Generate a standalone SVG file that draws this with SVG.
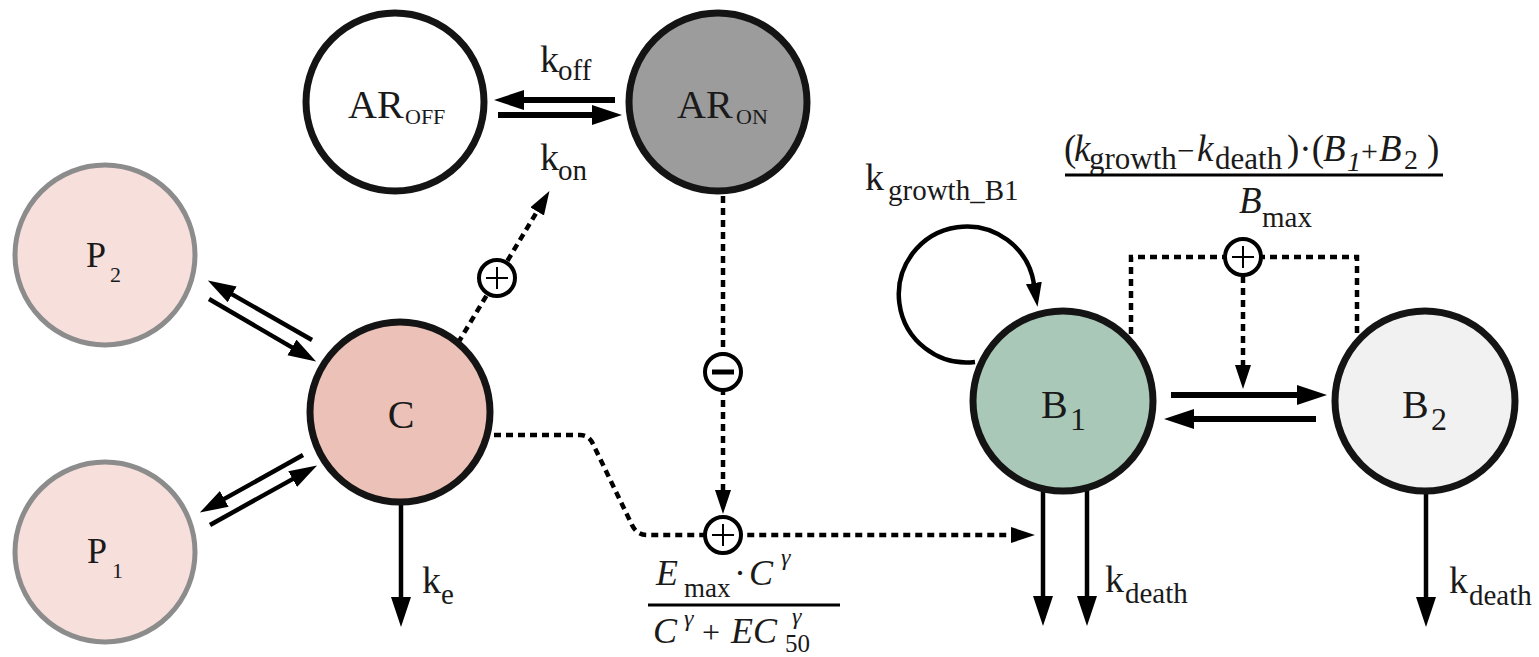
<svg xmlns="http://www.w3.org/2000/svg" width="1539" height="657" viewBox="0 0 1539 657" font-family="Liberation Serif, DejaVu Serif, serif">
  <defs>
    <style>
      text { fill: #1a1a1a; }
      .lbl { font-size: 40px; }
      .k { font-size: 38px; }
      .sub { font-size: 29px; }
      .it { font-style: italic; }
      .node { stroke: #141414; stroke-width: 7; }
      .pnode { stroke: #8c8c8c; stroke-width: 5; fill: #f7dfdb; }
      .flow { fill: none; stroke: #000; stroke-width: 4.5; }
      .thick { fill: none; stroke: #000; stroke-width: 6; }
      .dot { fill: none; stroke: #000; stroke-width: 4.5; stroke-dasharray: 7 5; }
      .sign { fill: #fff; stroke: #000; stroke-width: 4; }
      .bar { stroke: #000; stroke-width: 2; }
    </style>
    <marker id="ah" markerUnits="userSpaceOnUse" markerWidth="30" markerHeight="20" refX="1" refY="9" orient="auto">
      <path d="M0,0 L28,9 L0,18 Z" fill="#000"/>
    </marker>
    <marker id="ahL" markerUnits="userSpaceOnUse" markerWidth="32" markerHeight="22" refX="1" refY="10" orient="auto">
      <path d="M0,0 L30,10 L0,20 Z" fill="#000"/>
    </marker>
    <marker id="ahD" markerUnits="userSpaceOnUse" markerWidth="26" markerHeight="18" refX="1" refY="8" orient="auto">
      <path d="M0,0 L24,8 L0,16 Z" fill="#000"/>
    </marker>
  </defs>

  <!-- connectors -->
  <g id="connectors">
    <!-- receptor switching -->
    <line class="thick" x1="615" y1="100" x2="523" y2="100" marker-end="url(#ahL)"/>
    <line class="thick" x1="498" y1="115" x2="593" y2="115" marker-end="url(#ahL)"/>
    <!-- peripheral exchange -->
    <line class="flow" x1="312" y1="340" x2="231.3" y2="293.9" marker-end="url(#ah)"/>
    <line class="flow" x1="209" y1="299" x2="292.8" y2="347.9" marker-end="url(#ah)"/>
    <line class="flow" x1="303" y1="455" x2="223.4" y2="499.4" marker-end="url(#ah)"/>
    <line class="flow" x1="210" y1="525" x2="293.5" y2="478.6" marker-end="url(#ah)"/>
    <!-- elimination -->
    <line class="flow" x1="401" y1="503" x2="401" y2="598" marker-end="url(#ahL)"/>
    <!-- B1 / B2 transition -->
    <line class="thick" x1="1171" y1="395" x2="1298" y2="395" marker-end="url(#ahL)"/>
    <line class="thick" x1="1316" y1="419" x2="1193" y2="419" marker-end="url(#ahL)"/>
    <!-- death outflows -->
    <line class="flow" x1="1043" y1="490" x2="1043" y2="597" marker-end="url(#ahL)"/>
    <line class="flow" x1="1087" y1="490" x2="1087" y2="597" marker-end="url(#ahL)"/>
    <line class="flow" x1="1426" y1="494" x2="1426" y2="598" marker-end="url(#ahL)"/>
    <!-- B1 self growth -->
    <path class="flow" d="M975,362 A68,68 0 1 1 1034,284" marker-end="url(#ahD)"/>
    <!-- regulatory links -->
    <line class="dot" x1="458" y1="343" x2="537.6" y2="210.6" marker-end="url(#ahD)"/>
    <line class="dot" x1="723" y1="196" x2="723" y2="491" marker-end="url(#ahD)"/>
    <path class="dot" d="M494,435 L580,435 Q589,435 593,444 L632,525 Q637,535 647,535 L1012,535" marker-end="url(#ahD)"/>
    <path class="dot" d="M1131,334 V257 H1357 V334"/>
    <line class="dot" x1="1243" y1="276" x2="1243" y2="366" marker-end="url(#ahD)"/>
  </g>

  <!-- regulation signs -->
  <g id="sign-plus-c">
    <circle class="sign" cx="497" cy="278" r="18"/>
    <line class="bar" x1="486" y1="278" x2="508" y2="278"/>
    <line class="bar" x1="497" y1="267" x2="497" y2="289"/>
  </g>
  <g id="sign-minus">
    <circle class="sign" cx="723" cy="372" r="18"/>
    <line x1="712" y1="372" x2="734" y2="372" stroke="#000" stroke-width="5"/>
  </g>
  <g id="sign-plus-effect">
    <circle class="sign" cx="723" cy="535" r="18"/>
    <line class="bar" x1="712" y1="535" x2="734" y2="535"/>
    <line class="bar" x1="723" y1="524" x2="723" y2="546"/>
  </g>
  <g id="sign-plus-b">
    <circle class="sign" cx="1243" cy="257" r="18"/>
    <line class="bar" x1="1232" y1="257" x2="1254" y2="257"/>
    <line class="bar" x1="1243" y1="246" x2="1243" y2="268"/>
  </g>

  <!-- nodes -->
  <g id="node-ar-off">
    <circle class="node" cx="395" cy="102" r="89" fill="#ffffff"/>
    <text class="lbl" x="348" y="118">AR<tspan x="405" y="124" font-size="22">OFF</tspan></text>
  </g>
  <g id="node-ar-on">
    <circle class="node" cx="718" cy="102" r="89" fill="#9c9c9c"/>
    <text class="lbl" x="677" y="118">AR<tspan x="736" y="124" font-size="22">ON</tspan></text>
  </g>
  <g id="node-p2">
    <circle class="pnode" cx="105" cy="255" r="90"/>
    <text x="86" y="267" font-size="36">P<tspan x="110" y="282" font-size="22">2</tspan></text>
  </g>
  <g id="node-p1">
    <circle class="pnode" cx="105" cy="552" r="90"/>
    <text x="87" y="563" font-size="36">P<tspan x="112" y="578" font-size="22">1</tspan></text>
  </g>
  <g id="node-c">
    <circle class="node" cx="400" cy="412" r="90" fill="#ecc1b8"/>
    <text class="lbl" x="401" y="428" text-anchor="middle">C</text>
  </g>
  <g id="node-b1">
    <circle class="node" cx="1063" cy="401" r="90" fill="#aac8b7"/>
    <text class="lbl" x="1041" y="418">B<tspan x="1070" y="430" font-size="32">1</tspan></text>
  </g>
  <g id="node-b2">
    <circle class="node" cx="1425" cy="401" r="90" fill="#f1f1f1"/>
    <text class="lbl" x="1402" y="418">B<tspan x="1431" y="430" font-size="32">2</tspan></text>
  </g>

  <!-- rate labels -->
  <g id="labels">
    <text class="k" x="540" y="72">k<tspan class="sub" x="558" y="80">off</tspan></text>
    <text class="k" x="540" y="170">k<tspan class="sub" x="558" y="180">on</tspan></text>
    <text class="k" x="422" y="593">k<tspan class="sub" x="441" y="604">e</tspan></text>
    <text class="k" x="865" y="190">k<tspan class="sub" x="888" y="200">growth_B1</tspan></text>
    <text class="k" x="1105" y="592">k<tspan class="sub" x="1125" y="603">death</tspan></text>
    <text class="k" x="1449" y="593">k<tspan class="sub" x="1469" y="605">death</tspan></text>
  </g>

  <!-- capacity term -->
  <g id="eq-capacity">
    <text font-size="37"><tspan x="1064" y="161">(</tspan><tspan class="it" x="1074" y="161">k</tspan><tspan x="1089" y="169" font-size="31">growth</tspan><tspan x="1177" y="161" font-size="31">−</tspan><tspan class="it" x="1197" y="161">k</tspan><tspan x="1215" y="169" font-size="31">death</tspan><tspan x="1287" y="161">)·(</tspan><tspan class="it" x="1323" y="161">B</tspan><tspan class="it" x="1347" y="171" font-size="28">1</tspan><tspan x="1361" y="161" font-size="30">+</tspan><tspan class="it" x="1379" y="161">B</tspan><tspan x="1404" y="169" font-size="28">2</tspan><tspan x="1427" y="161">)</tspan></text>
    <line x1="1065" y1="175" x2="1443" y2="175" stroke="#000" stroke-width="3"/>
    <text font-size="37"><tspan class="it" x="1239" y="213">B</tspan><tspan x="1262" y="227" font-size="29">max</tspan></text>
  </g>

  <!-- drug effect term -->
  <g id="eq-effect">
    <text font-size="36"><tspan class="it" x="656" y="585">E</tspan><tspan x="684" y="597" font-size="27">max</tspan><tspan x="734" y="585">·</tspan><tspan class="it" x="749" y="585">C</tspan><tspan class="it" x="781" y="565" font-size="24">γ</tspan></text>
    <line x1="648" y1="605" x2="840" y2="605" stroke="#000" stroke-width="3"/>
    <text font-size="36"><tspan class="it" x="653" y="643">C</tspan><tspan class="it" x="684" y="626" font-size="24">γ</tspan><tspan x="702" y="643" font-size="32">+</tspan><tspan class="it" x="731" y="643">EC</tspan><tspan class="it" x="792" y="624" font-size="24">γ</tspan><tspan x="785" y="652" font-size="25">50</tspan></text>
  </g>
</svg>
